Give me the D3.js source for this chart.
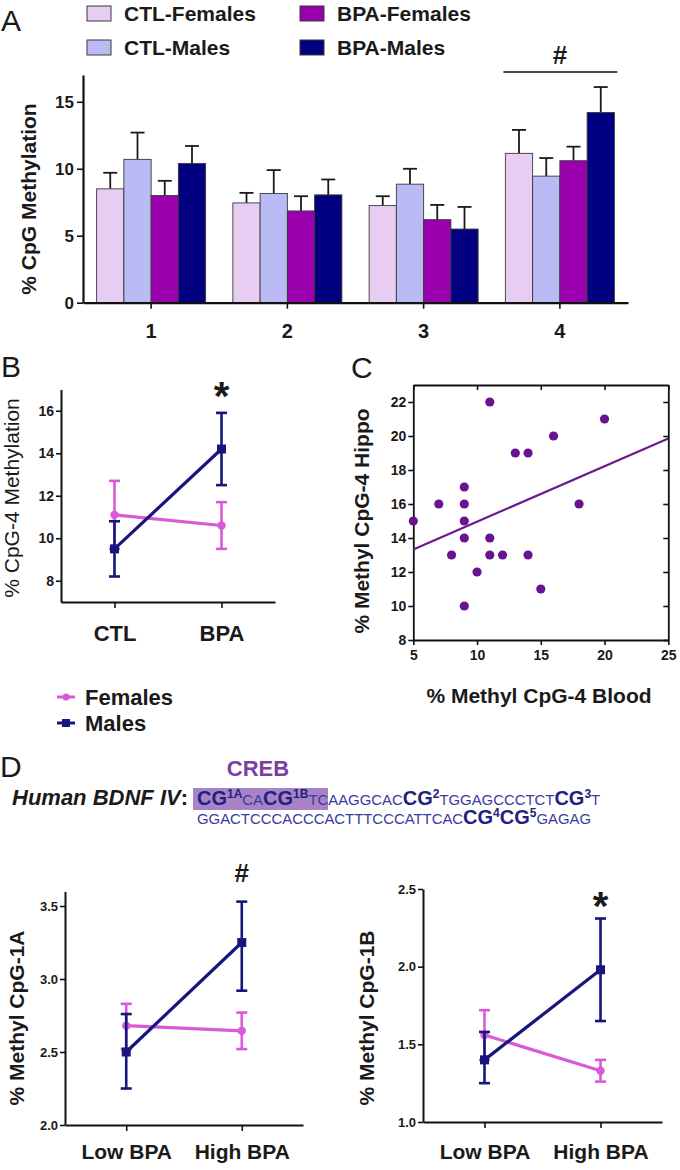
<!DOCTYPE html>
<html><head><meta charset="utf-8">
<script src="https://cdn.jsdelivr.net/npm/d3@7/dist/d3.min.js"></script>
<style>
html,body{margin:0;padding:0;background:#fff;}
svg{display:block;}
text{font-family:"Liberation Sans",Arial,Helvetica,sans-serif;fill:#1a1a1a;}
</style></head>
<body>
<svg id="chart" width="680" height="1170"></svg>
<script>
// ===== Panel A data =====
const cpgSites = ["1", "2", "3", "4"];
const groupNames = ["CTL-Females", "CTL-Males", "BPA-Females", "BPA-Males"];
const groupColors = ["#e8cdf2", "#babaf5", "#9a00ad", "#000080"];
const ctlFemalesMean = [8.5, 7.45, 7.25, 11.15];
const ctlFemalesSem  = [1.2, 0.75, 0.7, 1.75];
const ctlMalesMean   = [10.7, 8.15, 8.85, 9.45];
const ctlMalesSem    = [2.0, 1.75, 1.15, 1.35];
const bpaFemalesMean = [8.0, 6.85, 6.2, 10.6];
const bpaFemalesSem  = [1.1, 1.1, 1.1, 1.05];
const bpaMalesMean   = [10.4, 8.05, 5.5, 14.2];
const bpaMalesSem    = [1.3, 1.15, 1.65, 1.9];
const panelATicks = [0, 5, 10, 15];

// ===== Panel B data =====
const treatmentCats = ["CTL", "BPA"];
const bFemalesMean = [11.1, 10.6];
const bFemalesSem  = [1.6, 1.1];
const bMalesMean   = [9.5, 14.2];
const bMalesSem    = [1.3, 1.7];
const panelBTicks = [8, 10, 12, 14, 16];

// ===== Panel C data =====
const bloodMeth = [5, 7, 8, 9, 9, 9, 9, 9, 10, 11, 11, 11, 12, 13, 14, 14, 15, 16, 18, 20];
const hippoMeth = [15, 16, 13, 17, 16, 15, 14, 10, 12, 22, 14, 13, 13, 19, 19, 13, 11, 20, 16, 21];
const panelCxTicks = [5, 10, 15, 20, 25];
const panelCyTicks = [8, 10, 12, 14, 16, 18, 20, 22];

// ===== Panel D data =====
const bpaLevelCats = ["Low BPA", "High BPA"];
const d1aFemalesMean = [2.68, 2.645];
const d1aFemalesLow  = [2.52, 2.52];
const d1aFemalesHigh = [2.83, 2.77];
const d1aMalesMean   = [2.50, 3.25];
const d1aMalesLow    = [2.25, 2.92];
const d1aMalesHigh   = [2.76, 3.53];
const d1bFemalesMean = [1.56, 1.33];
const d1bFemalesLow  = [1.40, 1.26];
const d1bFemalesHigh = [1.72, 1.40];
const d1bMalesMean   = [1.40, 1.98];
const d1bMalesLow    = [1.25, 1.65];
const d1bMalesHigh   = [1.58, 2.31];
const panelD1aTicks = [2.0, 2.5, 3.0, 3.5];
const panelD1bTicks = [1.0, 1.5, 2.0, 2.5];

const FEMALE = "#d95ad9", MALE = "#16167e";
const svg = d3.select("#chart");

function styleAxis(sel, w) {
  sel.select(".domain").attr("stroke", "#111").attr("stroke-width", w || 2);
  sel.selectAll(".tick line").attr("stroke", "#111").attr("stroke-width", 1.6);
  sel.selectAll("text").attr("fill", "#1a1a1a").attr("font-weight", "bold");
}
function panelLetter(t, x, y) {
  svg.append("text").attr("x", x).attr("y", y).attr("font-size", 30).text(t);
}

// ================= PANEL A =================
(function () {
  const g = svg.append("g");
  const series = [ctlFemalesMean, ctlMalesMean, bpaFemalesMean, bpaMalesMean];
  const sems = [ctlFemalesSem, ctlMalesSem, bpaFemalesSem, bpaMalesSem];
  const x = d3.scaleBand().domain(cpgSites).range([83, 628]).paddingInner(0.2).paddingOuter(0.1);
  const xi = d3.scaleBand().domain(groupNames).range([0, x.bandwidth()]);
  const y = d3.scaleLinear().domain([0, 17]).range([302.7, 75]);

  groupNames.forEach((name, gi) => {
    const data = cpgSites.map((s, i) => ({ s, v: series[gi][i], e: sems[gi][i] }));
    const bw = xi.bandwidth();
    data.forEach(d => {
      const cx = x(d.s) + xi(name) + bw / 2;
      g.append("line").attr("x1", cx).attr("x2", cx).attr("y1", y(d.v)).attr("y2", y(d.v + d.e))
        .attr("stroke", "#1a1a1a").attr("stroke-width", 1.8);
      g.append("line").attr("x1", cx - 7).attr("x2", cx + 7).attr("y1", y(d.v + d.e)).attr("y2", y(d.v + d.e))
        .attr("stroke", "#1a1a1a").attr("stroke-width", 1.8);
    });
    g.selectAll(null).data(data).enter().append("rect")
      .attr("x", d => x(d.s) + xi(name))
      .attr("y", d => y(d.v))
      .attr("width", bw)
      .attr("height", d => y(0) - y(d.v))
      .attr("fill", groupColors[gi])
      .attr("stroke", "#3a3a3a").attr("stroke-width", 0.9);
  });

  const ya = g.append("g").attr("transform", "translate(83,0)")
    .call(d3.axisLeft(y).tickValues(panelATicks).tickFormat(d3.format("d")).tickSize(6).tickSizeOuter(0).tickPadding(3));
  ya.selectAll("text").attr("font-size", 17);
  styleAxis(ya, 2.2);
  const xa = g.append("g").attr("transform", "translate(0,302.7)")
    .call(d3.axisBottom(x).tickSize(6).tickSizeOuter(0));
  xa.selectAll("text").attr("dy", null).attr("y", 35).attr("font-size", 20);
  styleAxis(xa, 2.2);

  g.append("text").attr("transform", "translate(36,199) rotate(-90)").attr("text-anchor", "middle")
    .attr("font-size", 21).attr("font-weight", "bold").text("% CpG Methylation");

  const lx = [87, 300], ly = [6, 40];
  groupNames.forEach((name, i) => {
    const col = Math.floor(i / 2), row = i % 2;
    g.append("rect").attr("x", lx[col]).attr("y", ly[row]).attr("width", 24).attr("height", 15)
      .attr("fill", groupColors[i]).attr("stroke", "#3a3a3a").attr("stroke-width", 1);
    g.append("text").attr("x", lx[col] + 37).attr("y", ly[row] + 15).attr("font-size", 21)
      .attr("font-weight", "bold").text(name);
  });

  const s4 = x("4");
  g.append("line").attr("x1", s4 - 2).attr("x2", s4 + x.bandwidth() + 3).attr("y1", 72).attr("y2", 72)
    .attr("stroke", "#111").attr("stroke-width", 1.6);
  g.append("text").attr("x", s4 + x.bandwidth() / 2).attr("y", 64).attr("text-anchor", "middle")
    .attr("font-size", 26).attr("font-weight", "bold").text("#");
  panelLetter("A", 1, 31);
})();

// ================= LINE PANELS (B, D) =================
function linePanel(c) {
  const g = svg.append("g");
  const x = d3.scalePoint().domain(c.cats).range([c.x0, c.x1]).padding(c.pad);
  const y = d3.scaleLinear().domain(c.yDomain).range([c.y0, c.y1]);
  const ya = g.append("g").attr("transform", `translate(${c.x0},0)`)
    .call(d3.axisLeft(y).tickValues(c.yTicks).tickFormat(c.fmt).tickSize(5).tickSizeOuter(0).tickPadding(2));
  ya.selectAll("text").attr("font-size", c.tickFont);
  styleAxis(ya, 2);
  const xa = g.append("g").attr("transform", `translate(0,${c.y0})`)
    .call(d3.axisBottom(x).tickSize(6).tickSizeOuter(0));
  xa.selectAll("text").attr("dy", null).attr("y", c.xLabOff).attr("font-size", c.xFont);
  styleAxis(xa, 2);

  c.series.forEach(s => {
    const pts = c.cats.map((k, i) => ({ k, m: s.mean[i], lo: s.low[i], hi: s.high[i] }));
    pts.forEach(p => {
      const cx = x(p.k);
      g.append("line").attr("x1", cx).attr("x2", cx).attr("y1", y(p.lo)).attr("y2", y(p.hi))
        .attr("stroke", s.color).attr("stroke-width", 2.6);
      [p.lo, p.hi].forEach(v => g.append("line").attr("x1", cx - 5.5).attr("x2", cx + 5.5)
        .attr("y1", y(v)).attr("y2", y(v)).attr("stroke", s.color).attr("stroke-width", 2.6));
    });
    g.append("path").datum(pts).attr("fill", "none").attr("stroke", s.color).attr("stroke-width", 3.2)
      .attr("d", d3.line().x(p => x(p.k)).y(p => y(p.m)));
    if (s.shape === "square") {
      g.selectAll(null).data(pts).enter().append("rect")
        .attr("x", p => x(p.k) - 4.5).attr("y", p => y(p.m) - 4.5).attr("width", 9).attr("height", 9)
        .attr("fill", s.color);
    } else {
      g.selectAll(null).data(pts).enter().append("circle")
        .attr("cx", p => x(p.k)).attr("cy", p => y(p.m)).attr("r", 4.2).attr("fill", s.color);
    }
  });

  g.append("text").attr("transform", `translate(${c.labX},${c.labY}) rotate(-90)`).attr("text-anchor", "middle")
    .attr("font-size", c.labFont).attr("font-weight", c.labWeight).text(c.label);
  if (c.sig) {
    g.append("text").attr("x", x(c.sig.cat)).attr("y", c.sig.y).attr("text-anchor", "middle")
      .attr("font-size", c.sig.size).attr("font-weight", "bold").text(c.sig.t);
  }
}

// Panel B
linePanel({
  cats: treatmentCats, x0: 61, x1: 275, pad: 0.5, yDomain: [7, 17], y0: 602, y1: 389.5,
  yTicks: panelBTicks, fmt: d3.format("d"), tickFont: 14, xFont: 22, xLabOff: 39,
  series: [
    { color: FEMALE, shape: "circle", mean: bFemalesMean,
      low: bFemalesMean.map((m, i) => m - bFemalesSem[i]), high: bFemalesMean.map((m, i) => m + bFemalesSem[i]) },
    { color: MALE, shape: "square", mean: bMalesMean,
      low: bMalesMean.map((m, i) => m - bMalesSem[i]), high: bMalesMean.map((m, i) => m + bMalesSem[i]) }
  ],
  label: "% CpG-4 Methylation", labX: 19, labY: 498, labFont: 21, labWeight: "normal",
  sig: { cat: "BPA", t: "*", y: 410, size: 40 }
});
panelLetter("B", 1, 377);

[["Females", FEMALE, "circle", 697], ["Males", MALE, "square", 723]].forEach(([t, col, shp, ly]) => {
  svg.append("line").attr("x1", 57).attr("x2", 75).attr("y1", ly).attr("y2", ly).attr("stroke", col).attr("stroke-width", 3);
  if (shp === "circle") svg.append("circle").attr("cx", 66).attr("cy", ly).attr("r", 3.5).attr("fill", col);
  else svg.append("rect").attr("x", 62).attr("y", ly - 4).attr("width", 8).attr("height", 8).attr("fill", col);
  svg.append("text").attr("x", 85).attr("y", ly + 8).attr("font-size", 22).attr("font-weight", "bold").text(t);
});

// ================= PANEL C =================
(function () {
  const g = svg.append("g");
  const x = d3.scaleLinear().domain([5, 25]).range([413.3, 668.3]);
  const y = d3.scaleLinear().domain([8, 23]).range([640, 385]);
  const left = g.append("g").attr("transform", "translate(413.3,0)")
    .call(d3.axisLeft(y).tickValues(panelCyTicks).tickSize(5).tickSizeOuter(0).tickPadding(2));
  left.selectAll("text").attr("font-size", 14);
  styleAxis(left, 1.8);
  const bottom = g.append("g").attr("transform", "translate(0,640)")
    .call(d3.axisBottom(x).tickValues(panelCxTicks).tickSize(5).tickSizeOuter(0));
  bottom.selectAll("text").attr("dy", null).attr("y", 20).attr("font-size", 14);
  styleAxis(bottom, 1.8);
  const right = g.append("g").attr("transform", "translate(668.3,0)")
    .call(d3.axisLeft(y).tickValues(panelCyTicks).tickSize(5).tickSizeOuter(0).tickFormat(""));
  styleAxis(right, 1.8);
  const top = g.append("g").attr("transform", "translate(0,385)")
    .call(d3.axisBottom(x).tickValues(panelCxTicks).tickSize(5).tickSizeOuter(0).tickFormat(""));
  styleAxis(top, 1.8);

  const mx = d3.mean(bloodMeth), my = d3.mean(hippoMeth);
  const sxy = d3.sum(bloodMeth, (v, i) => (v - mx) * (hippoMeth[i] - my));
  const sxx = d3.sum(bloodMeth, v => (v - mx) * (v - mx));
  const slope = sxy / sxx, icpt = my - slope * mx;
  const ends = x.domain().map(v => ({ v, f: icpt + slope * v }));
  g.append("path").datum(ends).attr("fill", "none").attr("stroke", "#6a1b8c").attr("stroke-width", 2.2)
    .attr("d", d3.line().x(d => x(d.v)).y(d => y(d.f)));

  g.selectAll(null).data(bloodMeth).enter().append("circle")
    .attr("cx", d => x(d)).attr("cy", (d, i) => y(hippoMeth[i])).attr("r", 4.6).attr("fill", "#6a1391");

  g.append("text").attr("transform", "translate(369,521) rotate(-90)").attr("text-anchor", "middle")
    .attr("font-size", 21).attr("font-weight", "bold").text("% Methyl CpG-4 Hippo");
  g.append("text").attr("x", 539).attr("y", 703).attr("text-anchor", "middle")
    .attr("font-size", 21).attr("font-weight", "bold").text("% Methyl CpG-4 Blood");
  panelLetter("C", 351, 378);
})();

// ================= PANEL D =================
panelLetter("D", 0, 777);
svg.append("text").attr("x", 258).attr("y", 776).attr("text-anchor", "middle").attr("font-size", 22)
  .attr("font-weight", "bold").style("fill", "#7d3f9f").text("CREB");
svg.append("rect").attr("x", 193).attr("y", 788).attr("width", 135).attr("height", 22).attr("fill", "#a884c6");
svg.append("text").attr("x", 12).attr("y", 805).attr("font-size", 22).attr("font-weight", "bold")
  .attr("font-style", "italic").text("Human BDNF IV").append("tspan").attr("font-style", "normal").text(":");

function seqLine(segs, x0, yb) {
  const t = svg.append("text").attr("x", x0).attr("y", yb);
  let raised = false;
  segs.forEach(([s, kind]) => {
    const ts = t.append("tspan").text(s).style("fill", kind === "r" ? "#3b3ba0" : "#22227e");
    if (kind === "b") ts.attr("font-size", 20).attr("font-weight", "bold");
    else if (kind === "s") ts.attr("font-size", 12).attr("font-weight", "bold");
    else ts.attr("font-size", 14.9);
    if (kind === "s" && !raised) { ts.attr("dy", -7); raised = true; }
    else if (kind !== "s" && raised) { ts.attr("dy", 7); raised = false; }
  });
}
seqLine([["CG","b"],["1A","s"],["CA","r"],["CG","b"],["1B","s"],["TCAAGGCAC","r"],["CG","b"],["2","s"],
  ["TGGAGCCCTCT","r"],["CG","b"],["3","s"],["T","r"]], 197, 805);
seqLine([["GGACTCCCACCCACTTTCCCATTCAC","r"],["CG","b"],["4","s"],["CG","b"],["5","s"],["GAGAG","r"]], 197, 824);

linePanel({
  cats: bpaLevelCats, x0: 65, x1: 303, pad: 0.53, yDomain: [2.0, 3.6], y0: 1125, y1: 891.4,
  yTicks: panelD1aTicks, fmt: d3.format(".1f"), tickFont: 13, xFont: 21, xLabOff: 34,
  series: [
    { color: FEMALE, shape: "circle", mean: d1aFemalesMean, low: d1aFemalesLow, high: d1aFemalesHigh },
    { color: MALE, shape: "square", mean: d1aMalesMean, low: d1aMalesLow, high: d1aMalesHigh }
  ],
  label: "% Methyl CpG-1A", labX: 24, labY: 1018, labFont: 21, labWeight: "bold",
  sig: { cat: "High BPA", t: "#", y: 882, size: 26 }
});
linePanel({
  cats: bpaLevelCats, x0: 423, x1: 662, pad: 0.53, yDomain: [1.0, 2.5], y0: 1122, y1: 889,
  yTicks: panelD1bTicks, fmt: d3.format(".1f"), tickFont: 13, xFont: 21, xLabOff: 37,
  series: [
    { color: FEMALE, shape: "circle", mean: d1bFemalesMean, low: d1bFemalesLow, high: d1bFemalesHigh },
    { color: MALE, shape: "square", mean: d1bMalesMean, low: d1bMalesLow, high: d1bMalesHigh }
  ],
  label: "% Methyl CpG-1B", labX: 374, labY: 1018, labFont: 21, labWeight: "bold",
  sig: { cat: "High BPA", t: "*", y: 920, size: 40 }
});
</script>
</body></html>
